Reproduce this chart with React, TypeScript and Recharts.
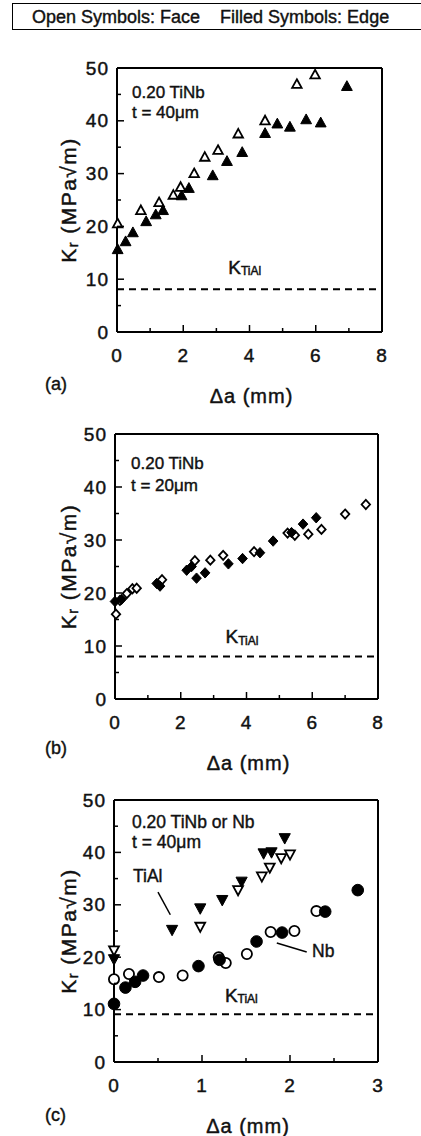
import React from 'react';
import { ScatterChart, Scatter, XAxis, YAxis, ReferenceLine } from 'recharts';

const FONT = '"Liberation Sans", Arial, Helvetica, sans-serif';

// (a) 0.20 TiNb, t = 40um  -- open = face, filled = edge
const aFaceDa = [0.02, 0.72, 1.27, 1.7, 1.92, 2.33, 2.65, 3.05, 3.66, 4.47, 5.43, 5.98];
const aFaceK = [20.5, 23.0, 24.5, 25.9, 27.4, 30.0, 33.1, 34.4, 37.5, 40.0, 46.9, 48.7];
const aEdgeDa = [0.02, 0.26, 0.48, 0.88, 1.17, 1.39, 1.95, 2.17, 2.89, 3.32, 3.78, 4.47, 4.84, 5.22, 5.71, 6.15, 6.94];
const aEdgeK = [15.6, 17.1, 18.8, 20.9, 22.2, 23.0, 25.8, 27.2, 29.6, 32.3, 34.0, 37.6, 39.4, 38.8, 40.2, 39.6, 46.5];

// (b) 0.20 TiNb, t = 20um
const bFaceDa = [0.03, 0.15, 0.36, 0.53, 0.66, 1.43, 2.43, 2.9, 3.29, 4.23, 5.25, 5.47, 5.88, 6.28, 7.0, 7.63];
const bFaceK = [16.0, 18.6, 19.9, 20.8, 20.9, 22.5, 26.1, 26.2, 27.1, 27.8, 31.3, 30.9, 31.1, 32.0, 34.9, 36.7];
const bEdgeDa = [0.0, 0.2, 1.27, 1.37, 2.18, 2.33, 2.48, 2.74, 3.45, 3.88, 4.41, 4.81, 5.37, 5.72, 6.12];
const bEdgeK = [18.4, 18.8, 21.8, 21.3, 24.3, 25.0, 22.8, 23.8, 25.5, 26.5, 27.6, 29.8, 31.4, 33.0, 34.2];

// (c) 0.20 TiNb (triangles) or Nb (circles), t = 40um
const cFaceTiNbDa = [0.0, 0.98, 1.41, 1.68, 1.77, 1.9, 2.0];
const cFaceTiNbK = [21.3, 25.8, 32.8, 35.4, 37.1, 38.9, 39.6];
const cEdgeTiNbDa = [0.0, 0.66, 0.98, 1.23, 1.45, 1.7, 1.79, 1.94];
const cEdgeTiNbK = [19.6, 25.2, 29.3, 30.9, 34.4, 39.8, 40.0, 42.7];
const cFaceNbDa = [0.0, 0.17, 0.51, 0.78, 1.19, 1.27, 1.51, 1.78, 2.05, 2.3];
const cFaceNbK = [15.8, 16.8, 16.2, 16.5, 20.0, 18.9, 20.6, 24.8, 25.0, 28.8];
const cEdgeNbDa = [0.0, 0.13, 0.24, 0.33, 0.96, 1.2, 1.62, 1.91, 2.4, 2.77];
const cEdgeNbK = [11.1, 14.2, 15.3, 16.5, 18.3, 19.5, 23.0, 24.7, 28.7, 32.8];

const kTiAl = [8.1, 8.0, 9.1];

const yTicks = [0, 5, 10, 15, 20, 25, 30, 35, 40, 45, 50];
const xTicksAB = [0, 1, 2, 3, 4, 5, 6, 7, 8];
const xTicksC = [0, 0.5, 1, 1.5, 2, 2.5, 3];

const zip = (xs: number[], ys: number[]) => xs.map((x, i) => ({ x, y: ys[i] }));

type Kind = 'up' | 'down' | 'diamond' | 'circle';

function marker(kind: Kind, filled: boolean) {
  return (props: any) => {
    const { cx, cy } = props;
    const style = { fill: filled ? '#000' : '#fff', stroke: '#000', strokeWidth: filled ? 1 : 1.8 };
    const s = filled ? 1 : 0.88;
    if (kind === 'circle') return <circle cx={cx} cy={cy} r={5.8 * s} {...style} />;
    let pts: number[][];
    if (kind === 'up') pts = [[cx, cy - 5.8 * s], [cx + 5.4 * s, cy + 4 * s], [cx - 5.4 * s, cy + 4 * s]];
    else if (kind === 'down') pts = [[cx, cy + 5.8 * s], [cx + 5.6 * s, cy - 4.6 * s], [cx - 5.6 * s, cy - 4.6 * s]];
    else pts = [[cx, cy - 5.2 * s], [cx + 4.8 * s, cy], [cx, cy + 5.2 * s], [cx - 4.8 * s, cy]];
    return <polygon points={pts.map((p) => p.join(',')).join(' ')} {...style} />;
  };
}

// slight stroke to mimic the heavy printed type
const txt = { fontFamily: FONT, fill: '#111', stroke: '#111', strokeWidth: 0.45 };

const bottomTick = (isMajor: (v: number) => boolean) => (p: any) => {
  const v = p.payload.value;
  const m = isMajor(v);
  return (
    <g>
      <line x1={p.x} x2={p.x} y1={p.y} y2={p.y - (m ? 7 : 4)} stroke="#000" strokeWidth={1.5} />
      {m && (
        <text x={p.x} y={p.y + 23} textAnchor="middle" dominantBaseline="central" fontSize={19} letterSpacing={1} {...txt}>
          {v}
        </text>
      )}
    </g>
  );
};

const topTick = (isMajor: (v: number) => boolean) => (p: any) => {
  const m = isMajor(p.payload.value);
  return <line x1={p.x} x2={p.x} y1={p.y} y2={p.y + (m ? 7 : 4)} stroke="#000" strokeWidth={1.5} />;
};

const leftTick = (p: any) => {
  const v = p.payload.value;
  const m = v % 10 === 0;
  return (
    <g>
      <line x1={p.x} x2={p.x + (m ? 7 : 4)} y1={p.y} y2={p.y} stroke="#000" strokeWidth={1.5} />
      {m && (
        <text x={p.x - 8} y={p.y} textAnchor="end" dominantBaseline="central" fontSize={19} letterSpacing={1} {...txt}>
          {v}
        </text>
      )}
    </g>
  );
};

const rightTick = (p: any) => {
  const m = p.payload.value % 10 === 0;
  return <line x1={p.x} x2={p.x - (m ? 7 : 4)} y1={p.y} y2={p.y} stroke="#000" strokeWidth={1.5} />;
};

const yTitle = (p: any) => {
  const vb = p.viewBox;
  const cy = vb.y + vb.height / 2;
  return (
    <text transform={`translate(68,${cy}) rotate(-90)`} textAnchor="middle" dominantBaseline="central" fontSize={21} letterSpacing={1.5} {...txt}>
      K<tspan fontSize={14} dy={5}>r</tspan>
      <tspan dy={-5}> (MPa{'\u221A'}m)</tspan>
    </text>
  );
};

const xTitle = (p: any) => {
  const vb = p.viewBox;
  return (
    <text x={vb.x + vb.width / 2 + 2} y={vb.y + 64} textAnchor="middle" dominantBaseline="central" fontSize={20} letterSpacing={1} {...txt}>
      {'\u0394'}a (mm)
    </text>
  );
};

const kLabel = (dy: number) => (p: any) => {
  const vb = p.viewBox;
  return (
    <text x={vb.x + 0.42 * vb.width} y={vb.y - dy} dominantBaseline="central" fontSize={19} {...txt}>
      K<tspan fontSize={12} dy={4}>TiAl</tspan>
    </text>
  );
};

type Series = { data: { x: number; y: number }[]; kind: Kind; filled: boolean; name: string };

type PanelProps = {
  top: number;
  height: number;
  plot: { left: number; top: number; right: number; bottom: number };
  xMax: number;
  xTicks: number[];
  xMajor: (v: number) => boolean;
  k: number;
  kDy: number;
  series: Series[];
  segments?: { x: number; y: number }[][];
};

function Panel({ top, height, plot, xMax, xTicks, xMajor, k, kDy, series, segments }: PanelProps) {
  const axisLine = { stroke: '#000', strokeWidth: 2 };
  return (
    <div style={{ position: 'absolute', left: 0, top }}>
      <ScatterChart
        width={421}
        height={height}
        margin={{ top: plot.top - top - 1, right: 421 - plot.right - 1, left: 0, bottom: top + height - plot.bottom - 60 }}
      >
        <XAxis
          type="number"
          dataKey="x"
          domain={[0, xMax]}
          ticks={xTicks}
          interval={0}
          height={60}
          axisLine={axisLine}
          tickLine={false}
          tickSize={0}
          tickMargin={0}
          tick={bottomTick(xMajor)}
          label={xTitle}
        />
        <XAxis
          xAxisId="top"
          orientation="top"
          type="number"
          domain={[0, xMax]}
          ticks={xTicks}
          interval={0}
          height={1}
          axisLine={axisLine}
          tickLine={false}
          tickSize={0}
          tickMargin={0}
          tick={topTick(xMajor)}
        />
        <YAxis
          type="number"
          dataKey="y"
          domain={[0, 50]}
          ticks={yTicks}
          interval={0}
          width={plot.left}
          axisLine={axisLine}
          tickLine={false}
          tickSize={0}
          tickMargin={0}
          tick={leftTick}
          label={yTitle}
        />
        <YAxis
          yAxisId="right"
          orientation="right"
          type="number"
          domain={[0, 50]}
          ticks={yTicks}
          interval={0}
          width={1}
          axisLine={axisLine}
          tickLine={false}
          tickSize={0}
          tickMargin={0}
          tick={rightTick}
        />
        <ReferenceLine y={k} stroke="#000" strokeWidth={2} strokeDasharray="7 5" label={kLabel(kDy)} />
        {(segments || []).map((seg, i) => (
          <ReferenceLine key={i} segment={seg} stroke="#000" strokeWidth={1.5} />
        ))}
        {series.map((s) => (
          <Scatter key={s.name} name={s.name} data={s.data} shape={marker(s.kind, s.filled)} isAnimationActive={false} />
        ))}
      </ScatterChart>
    </div>
  );
}

function Note({ left, cy, size, children }: { left: number; cy: number; size: number; children: React.ReactNode }) {
  return (
    <div
      style={{
        position: 'absolute',
        left,
        top: cy - size * 0.49,
        fontFamily: FONT,
        fontSize: size,
        lineHeight: 1,
        color: '#111',
        whiteSpace: 'nowrap',
        WebkitTextStroke: '0.4px #111',
      }}
    >
      {children}
    </div>
  );
}

export default function App() {
  const evenMajor = (v: number) => v % 2 === 0;
  const intMajor = (v: number) => Number.isInteger(v);
  return (
    <div style={{ position: 'absolute', left: 0, top: 0, width: 421, height: 1136, background: '#fff', overflow: 'hidden' }}>
      <div
        style={{
          position: 'absolute',
          left: 12,
          top: 3,
          width: 420,
          height: 27,
          border: '1.5px solid #000',
          boxSizing: 'border-box',
        }}
      />
      <Note left={32} cy={17} size={18}>
        Open Symbols: Face&nbsp;&nbsp;&nbsp;&nbsp;Filled Symbols: Edge
      </Note>

      <Panel
        top={40}
        height={380}
        plot={{ left: 117, top: 68, right: 382, bottom: 332 }}
        xMax={8}
        xTicks={xTicksAB}
        xMajor={evenMajor}
        k={kTiAl[0]}
        kDy={22}
        series={[
          { name: 'face', data: zip(aFaceDa, aFaceK), kind: 'up', filled: false },
          { name: 'edge', data: zip(aEdgeDa, aEdgeK), kind: 'up', filled: true },
        ]}
      />
      <Note left={132} cy={92} size={17}>0.20 TiNb</Note>
      <Note left={132} cy={112} size={17}>t = 40{'\u03BC'}m</Note>
      <Note left={45} cy={384} size={18}>(a)</Note>

      <Panel
        top={405}
        height={385}
        plot={{ left: 115, top: 434, right: 378, bottom: 699 }}
        xMax={8}
        xTicks={xTicksAB}
        xMajor={evenMajor}
        k={kTiAl[1]}
        kDy={20}
        series={[
          { name: 'face', data: zip(bFaceDa, bFaceK), kind: 'diamond', filled: false },
          { name: 'edge', data: zip(bEdgeDa, bEdgeK), kind: 'diamond', filled: true },
        ]}
      />
      <Note left={131} cy={463} size={17}>0.20 TiNb</Note>
      <Note left={131} cy={485} size={17}>t = 20{'\u03BC'}m</Note>
      <Note left={45} cy={748} size={18}>(b)</Note>

      <Panel
        top={770}
        height={366}
        plot={{ left: 114, top: 800, right: 378, bottom: 1062 }}
        xMax={3}
        xTicks={xTicksC}
        xMajor={intMajor}
        k={kTiAl[2]}
        kDy={19}
        series={[
          { name: 'tinb-face', data: zip(cFaceTiNbDa, cFaceTiNbK), kind: 'down', filled: false },
          { name: 'tinb-edge', data: zip(cEdgeTiNbDa, cEdgeTiNbK), kind: 'down', filled: true },
          { name: 'nb-face', data: zip(cFaceNbDa, cFaceNbK), kind: 'circle', filled: false },
          { name: 'nb-edge', data: zip(cEdgeNbDa, cEdgeNbK), kind: 'circle', filled: true },
        ]}
        segments={[
          [{ x: 0.5, y: 32.4 }, { x: 0.64, y: 28.1 }],
          [{ x: 1.85, y: 22.7 }, { x: 2.19, y: 21.0 }],
        ]}
      />
      <Note left={132} cy={823} size={17.5}>0.20 TiNb or Nb</Note>
      <Note left={132} cy={843} size={17.5}>t = 40{'\u03BC'}m</Note>
      <Note left={133} cy={877} size={17.5}>TiAl</Note>
      <Note left={312} cy={952} size={17.5}>Nb</Note>
      <Note left={45} cy={1115} size={18}>(c)</Note>
    </div>
  );
}
